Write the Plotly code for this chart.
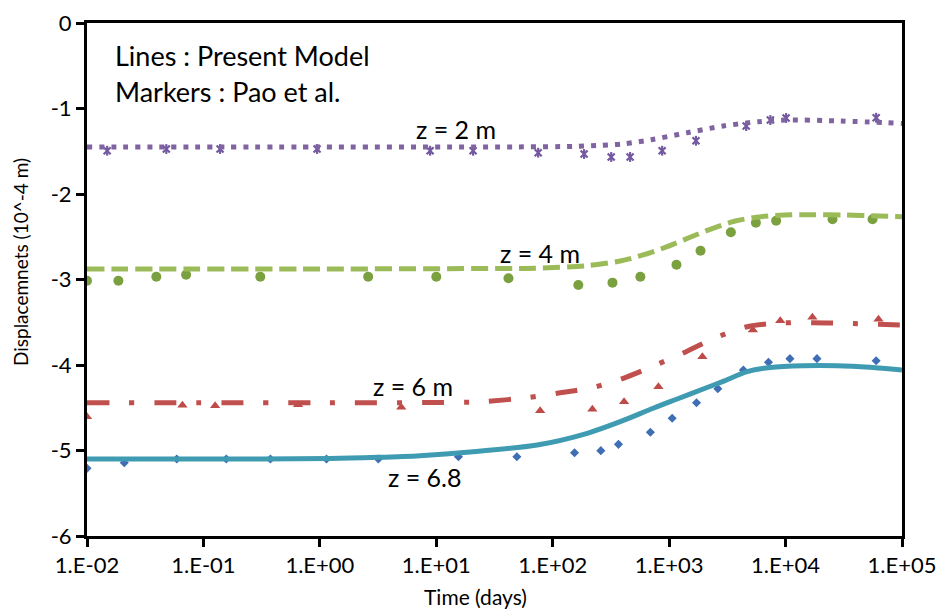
import plotly.graph_objects as go

# ---------------- data ----------------
# Model lines (Present Model)
t_z2 = [0.01, 1, 50, 150, 260, 400, 700, 1430, 2900, 5900, 9800, 29500, 100000]
d_z2 = [-1.449, -1.449, -1.449, -1.443, -1.430, -1.415, -1.365, -1.283, -1.205, -1.154, -1.135, -1.146, -1.175]

t_z4 = [0.01, 1, 35, 70.6, 194, 380, 598, 962, 1514, 2250, 3690, 6170, 9720, 16300, 32500, 62400, 100000]
d_z4 = [-2.877, -2.877, -2.871, -2.869, -2.839, -2.784, -2.713, -2.616, -2.506, -2.413, -2.316, -2.265, -2.246, -2.242, -2.246, -2.257, -2.265]

t_z6 = [0.01, 1, 19.5, 27.3, 60, 116, 218, 403, 743, 1400, 2440, 4680, 9000, 17000, 32400, 62700, 100000]
d_z6 = [-4.441, -4.441, -4.435, -4.425, -4.383, -4.324, -4.265, -4.156, -4.008, -3.844, -3.688, -3.552, -3.509, -3.505, -3.512, -3.524, -3.532]

t_z68 = [0.01, 0.0935, 1.22, 3.16, 7.26, 19.5, 73.5, 198, 380, 729, 1172, 1960, 2910, 4680, 7380, 14200, 27700, 53300, 100000]
d_z68 = [-5.099, -5.099, -5.095, -5.08, -5.06, -5.018, -4.936, -4.799, -4.663, -4.506, -4.398, -4.281, -4.191, -4.078, -4.029, -4.008, -4.008, -4.027, -4.058]

# Markers (Pao et al.)
pt_z2 = [0.0149, 0.048, 0.139, 0.946, 8.85, 20.7, 75, 186, 318, 462, 871, 1700, 4590, 7400, 10100, 60000]
pd_z2 = [-1.494, -1.474, -1.474, -1.474, -1.494, -1.494, -1.517, -1.532, -1.567, -1.567, -1.494, -1.377, -1.205, -1.135, -1.111, -1.108]

pt_z4 = [0.01, 0.0186, 0.0394, 0.071, 0.308, 2.6, 10, 41.7, 166, 326, 566, 1156, 1860, 3390, 5560, 8300, 25300, 55800]
pd_z4 = [-3.014, -3.014, -2.967, -2.944, -2.967, -2.967, -2.967, -2.986, -3.064, -3.037, -2.967, -2.827, -2.663, -2.448, -2.336, -2.312, -2.296, -2.296]

pt_z6 = [0.01, 0.066, 0.126, 0.65, 5.0, 78, 219, 410, 809, 1930, 5240, 9000, 17000, 62800]
pd_z6 = [-4.605, -4.47, -4.478, -4.465, -4.495, -4.535, -4.518, -4.43, -4.254, -3.903, -3.591, -3.482, -3.442, -3.466]

pt_z68 = [0.01, 0.0209, 0.059, 0.157, 0.376, 1.14, 3.18, 15.5, 49.2, 154, 259, 367, 690, 1062, 1718, 2620, 4340, 7130, 10900, 18600, 60000]
pd_z68 = [-5.209, -5.143, -5.099, -5.099, -5.099, -5.099, -5.099, -5.073, -5.073, -5.026, -5.002, -4.928, -4.787, -4.623, -4.441, -4.277, -4.058, -3.968, -3.926, -3.926, -3.95]

x_tickvals = [0.01, 0.1, 1, 10, 100, 1000, 10000, 100000]
x_ticktext = ["1.E-02", "1.E-01", "1.E+00", "1.E+01", "1.E+02", "1.E+03", "1.E+04", "1.E+05"]
y_tickvals = [0, -1, -2, -3, -4, -5, -6]
y_ticktext = ["0", "-1", "-2", "-3", "-4", "-5", "-6"]

FONT = "Lato"
PURPLE_M = "#7459A0"

fig = go.Figure()

# markers first (lines drawn on top)
fig.add_trace(go.Scatter(x=pt_z68, y=pd_z68, mode="markers",
                         marker=dict(symbol="diamond", size=7, color="#3F6EB4")))
fig.add_trace(go.Scatter(x=pt_z6, y=pd_z6, mode="markers",
                         marker=dict(symbol="triangle-up", size=9, color="#BE4B48")))
fig.add_trace(go.Scatter(x=pt_z4, y=pd_z4, mode="markers",
                         marker=dict(symbol="circle", size=10, color="#7AA03F")))
fig.add_trace(go.Scatter(x=pt_z2, y=pd_z2, mode="markers",
                         marker=dict(symbol="x-thin-open", size=7, color=PURPLE_M,
                                     line=dict(color=PURPLE_M, width=2.2))))
fig.add_trace(go.Scatter(x=pt_z2, y=pd_z2, mode="markers",
                         marker=dict(symbol="line-ns-open", size=7, color=PURPLE_M,
                                     line=dict(color=PURPLE_M, width=2.2))))

# model lines
fig.add_trace(go.Scatter(x=t_z68, y=d_z68, mode="lines", line_shape="spline",
                         line=dict(color="#3E9BB2", width=5, smoothing=0.8)))
fig.add_trace(go.Scatter(x=t_z6, y=d_z6, mode="lines", line_shape="spline",
                         line=dict(color="#C0504D", width=5, dash="22px,20px,5px,20px", smoothing=0.8)))
fig.add_trace(go.Scatter(x=t_z4, y=d_z4, mode="lines", line_shape="spline",
                         line=dict(color="#9BBB59", width=5, dash="17px,7px", smoothing=0.8)))
fig.add_trace(go.Scatter(x=t_z2, y=d_z2, mode="lines", line_shape="spline",
                         line=dict(color="#8064A2", width=5, dash="5px,7px", smoothing=0.8)))

ann_font = dict(family=FONT, size=25, color="black")
big_font = dict(family=FONT, size=27, color="black")
annotations = [
    dict(text="Lines : Present Model", x=0.032, y=0.9376, xref="paper", yref="paper",
         xanchor="left", yanchor="middle", showarrow=False, font=big_font),
    dict(text="Markers : Pao et al.", x=0.032, y=0.8655, xref="paper", yref="paper",
         xanchor="left", yanchor="middle", showarrow=False, font=big_font),
    dict(text="z = 2 m", x=1.17, y=-1.24, xref="x", yref="y", showarrow=False, font=ann_font),
    dict(text="z = 4 m", x=1.892, y=-2.69, xref="x", yref="y", showarrow=False, font=ann_font),
    dict(text="z = 6 m", x=0.80, y=-4.24, xref="x", yref="y", showarrow=False, font=ann_font),
    dict(text="z = 6.8", x=0.904, y=-5.31, xref="x", yref="y", showarrow=False, font=ann_font),
    dict(text="Displacemnets (10^-4 m)", x=-0.0822, y=0.534, xref="paper", yref="paper",
         xanchor="center", yanchor="middle",
         textangle=-90, showarrow=False, font=dict(family=FONT, size=19, color="black")),
    dict(text="Time (days)", x=0.4767, y=-0.117, xref="paper", yref="paper",
         xanchor="center", yanchor="middle",
         showarrow=False, font=dict(family=FONT, size=21, color="black")),
]

fig.update_layout(
    width=940, height=610,
    margin=dict(l=87, r=38, t=23, b=74, autoexpand=False),
    paper_bgcolor="white", plot_bgcolor="white",
    showlegend=False,
    font=dict(family=FONT, size=22, color="black"),
    annotations=annotations,
)
fig.update_xaxes(type="log", range=[-2, 5], tickvals=x_tickvals, ticktext=x_ticktext,
                 automargin=False,
                 showgrid=False, zeroline=False, showline=True, linecolor="black", linewidth=3,
                 mirror=True, ticks="outside", ticklen=8, tickwidth=3, tickcolor="black",
                 tickfont=dict(family=FONT, size=22, color="black"))
fig.update_yaxes(range=[-6, 0], tickvals=y_tickvals, ticktext=y_ticktext,
                 automargin=False,
                 showgrid=False, zeroline=False, showline=True, linecolor="black", linewidth=3,
                 mirror=True, ticks="outside", ticklen=8, tickwidth=3, tickcolor="black",
                 tickfont=dict(family=FONT, size=22, color="black"))

fig.write_html("out.html")
